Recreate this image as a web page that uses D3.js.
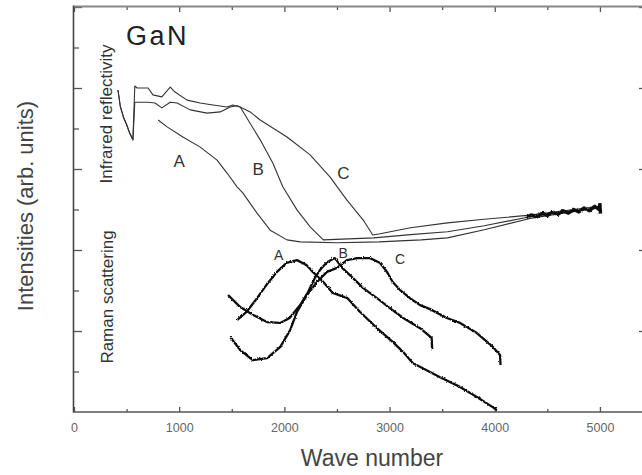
<!DOCTYPE html>
<html>
<head>
<meta charset="utf-8">
<script src="https://cdn.jsdelivr.net/npm/d3@7"></script>
<style>
  body { margin: 0; background: #fff; }
  svg { display: block; font-family: "Liberation Sans", Arial, sans-serif; }
</style>
</head>
<body>
<div id="chart"></div>
<script>
const width = 642;
const height = 475;

// Infrared reflectivity curves: [wave number, intensity]
const irA = [[800,7.21],[885,7.04],[1035,6.79],[1200,6.54],[1360,6.22],[1455,5.90],[1550,5.56],[1605,5.41],[1740,4.91],[1865,4.49],[2025,4.25],[2150,4.20],[2500,4.18],[2900,4.20],[3300,4.25],[3550,4.30],[3900,4.50],[4335,4.78],[4700,4.93],[5000,5.04]];
const irB = [[418,7.95],[440,7.55],[470,7.28],[500,7.10],[530,6.88],[560,6.72],[578,7.65],[600,7.65],[705,7.65],[770,7.63],[835,7.51],[915,7.65],[980,7.63],[1105,7.46],[1265,7.38],[1390,7.41],[1485,7.53],[1550,7.56],[1580,7.53],[1770,6.72],[1890,6.15],[1985,5.56],[2120,4.99],[2245,4.57],[2370,4.25],[2850,4.30],[3200,4.38],[3550,4.45],[3900,4.60],[4335,4.82],[5000,5.05]];
const irC = [[418,7.95],[440,7.55],[470,7.28],[500,7.10],[530,6.88],[560,6.72],[578,8.05],[600,8.00],[705,8.00],[750,7.83],[835,7.78],[915,8.02],[960,7.90],[1075,7.70],[1200,7.63],[1320,7.58],[1455,7.53],[1510,7.58],[1580,7.53],[1675,7.41],[1770,7.21],[2025,6.79],[2245,6.35],[2435,5.80],[2595,5.23],[2750,4.74],[2840,4.37],[2910,4.40],[3200,4.55],[3550,4.67],[3900,4.76],[4335,4.86],[5000,5.08]];
// noisy high wave number end of the reflectivity spectra
const irTail = [[4300,4.80],[4350,4.87],[4400,4.82],[4450,4.91],[4500,4.85],[4550,4.94],[4600,4.88],[4650,4.97],[4700,4.91],[4750,5.00],[4800,4.94],[4850,5.04],[4900,4.97],[4950,5.08],[4990,5.00],[5000,5.14],[5005,4.90]];

// Raman scattering curves
const ramanA = [[1550,2.27],[1640,2.47],[1740,2.81],[1830,3.14],[1930,3.46],[2020,3.68],[2120,3.75],[2210,3.63],[2270,3.46],[2370,3.21],[2460,2.94],[2600,2.81],[2720,2.47],[2880,2.07],[3030,1.73],[3130,1.48],[3220,1.21],[3480,0.86],[3670,0.62],[3830,0.37],[3980,0.12],[4020,0.05]];
const ramanB = [[1465,2.89],[1580,2.59],[1700,2.40],[1835,2.22],[1960,2.20],[2050,2.32],[2150,2.64],[2225,2.96],[2290,3.31],[2340,3.51],[2405,3.70],[2480,3.80],[2550,3.56],[2650,3.31],[2750,3.06],[2880,2.81],[3000,2.57],[3130,2.32],[3290,2.07],[3400,1.83],[3405,1.55]];
const ramanC = [[1485,1.85],[1580,1.53],[1700,1.28],[1835,1.33],[1960,1.60],[2055,2.02],[2120,2.47],[2215,2.89],[2310,3.21],[2405,3.46],[2500,3.56],[2595,3.75],[2690,3.80],[2815,3.80],[2910,3.68],[2975,3.46],[3030,3.21],[3100,3.01],[3195,2.81],[3290,2.64],[3385,2.54],[3545,2.32],[3670,2.20],[3830,1.95],[3985,1.60],[4050,1.41],[4055,1.16]];

const xMajor = [0, 1000, 2000, 3000, 4000, 5000];
const xMinor = [500, 1500, 2500, 3500, 4500];
const yMajor = [2, 4, 6, 8, 10];
const yMinor = [1, 3, 5, 7, 9];

const irLabels = [["A", 1000, 6.19], ["B", 1750, 6.0], ["C", 2560, 5.9]];
const ramanLabels = [["A", 1945, 3.87], ["B", 2560, 3.92], ["C", 3100, 3.78]];

const svg = d3.select("#chart")
    .append("svg")
    .attr("width", width)
    .attr("height", height);

const x = d3.scaleLinear().domain([0, 5400]).range([74, 642]);
const y = d3.scaleLinear().domain([0, 10]).range([412, 7]);

// rough, scanned-looking strokes
const defs = svg.append("defs");
const rough = defs.append("filter").attr("id", "rough")
    .attr("x", "-5%").attr("y", "-5%").attr("width", "110%").attr("height", "110%");
rough.append("feTurbulence").attr("type", "fractalNoise")
    .attr("baseFrequency", 0.8).attr("numOctaves", 1).attr("seed", 3).attr("result", "n");
rough.append("feDisplacementMap").attr("in", "SourceGraphic").attr("in2", "n")
    .attr("scale", 2.8).attr("xChannelSelector", "R").attr("yChannelSelector", "G");

// Axes
const axisColor = "#555";
function styleAxis(g) {
    g.select(".domain").remove();
    g.selectAll(".tick line").attr("stroke", axisColor).attr("stroke-width", 1.3);
}

svg.append("g").attr("transform", `translate(0,${y(0)})`)
    .call(d3.axisBottom(x).tickValues(xMajor).tickSize(-5).tickPadding(11).tickFormat(d3.format("d")))
    .call(styleAxis)
    .call(g => g.selectAll("text").attr("font-size", 12.5).attr("fill", "#666"));
svg.append("g").attr("transform", `translate(0,${y(0)})`)
    .call(d3.axisBottom(x).tickValues(xMinor).tickSize(-3).tickFormat(""))
    .call(styleAxis);
svg.append("g").attr("transform", `translate(0,${y(10)})`)
    .call(d3.axisTop(x).tickValues(xMajor).tickSize(-5).tickFormat(""))
    .call(styleAxis);
svg.append("g").attr("transform", `translate(0,${y(10)})`)
    .call(d3.axisTop(x).tickValues(xMinor).tickSize(-3).tickFormat(""))
    .call(styleAxis);
svg.append("g").attr("transform", `translate(${x(0)},0)`)
    .call(d3.axisLeft(y).tickValues(yMajor).tickSize(-8).tickFormat(""))
    .call(styleAxis);
svg.append("g").attr("transform", `translate(${x(0)},0)`)
    .call(d3.axisLeft(y).tickValues(yMinor).tickSize(-5).tickFormat(""))
    .call(styleAxis);
svg.append("g").attr("transform", `translate(${x(5400) + 1},0)`)
    .call(d3.axisRight(y).tickValues(yMajor).tickSize(-4).tickFormat(""))
    .call(styleAxis);

// frame lines
svg.append("line").attr("x1", x(0)).attr("x2", width).attr("y1", y(10) - 0.5).attr("y2", y(10) - 0.5)
    .attr("stroke", "#888").attr("stroke-width", 2);
svg.append("line").attr("x1", x(0) - 0.5).attr("x2", x(0) - 0.5).attr("y1", y(10) - 1.5).attr("y2", y(0) + 0.5)
    .attr("stroke", "#444").attr("stroke-width", 1.6);
svg.append("line").attr("x1", x(0) - 1).attr("x2", width).attr("y1", y(0)).attr("y2", y(0))
    .attr("stroke", "#555").attr("stroke-width", 1.6);

// Curves
const line = d3.line().x(d => x(d[0])).y(d => y(d[1]));

const ir = svg.append("g").attr("fill", "none").attr("stroke", "#333")
    .attr("stroke-linejoin", "round");
[irA, irB, irC].forEach(s => ir.append("path").attr("d", line(s)).attr("stroke-width", 1.1));
ir.append("path").attr("d", line(irTail)).attr("stroke", "#111").attr("stroke-width", 3.4)
    .attr("filter", "url(#rough)");

const raman = svg.append("g").attr("fill", "none").attr("stroke", "#111")
    .attr("stroke-linejoin", "round").attr("filter", "url(#rough)");
[ramanA, ramanB, ramanC].forEach(s => raman.append("path").attr("d", line(s)).attr("stroke-width", 2.3));

// Curve labels
svg.append("g").selectAll("text").data(irLabels).join("text")
    .attr("x", d => x(d[1])).attr("y", d => y(d[2]))
    .attr("text-anchor", "middle").attr("dy", "0.35em")
    .attr("font-size", 17).attr("fill", "#333")
    .text(d => d[0]);
svg.append("g").selectAll("text").data(ramanLabels).join("text")
    .attr("x", d => x(d[1])).attr("y", d => y(d[2]))
    .attr("text-anchor", "middle").attr("dy", "0.35em")
    .attr("font-size", 14).attr("fill", "#333")
    .text(d => d[0]);

// Titles and annotations
svg.append("text").attr("x", 126).attr("y", 45)
    .attr("font-size", 27).attr("letter-spacing", 2.5).attr("fill", "#222")
    .text("GaN");
svg.append("text").attr("transform", "translate(112,114) rotate(-90)")
    .attr("text-anchor", "middle").attr("font-size", 17).attr("fill", "#333")
    .text("Infrared reflectivity");
svg.append("text").attr("transform", "translate(113,297) rotate(-90)")
    .attr("text-anchor", "middle").attr("font-size", 17).attr("fill", "#333")
    .text("Raman scattering");
svg.append("text").attr("transform", "translate(33,206) rotate(-90)")
    .attr("text-anchor", "middle").attr("font-size", 22).attr("fill", "#444")
    .text("Intensities (arb. units)");
svg.append("text").attr("x", 372).attr("y", 466)
    .attr("text-anchor", "middle").attr("font-size", 23).attr("fill", "#444")
    .text("Wave number");
</script>
</body>
</html>
